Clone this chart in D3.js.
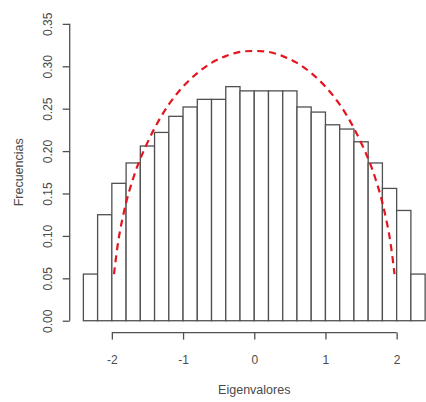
<!DOCTYPE html>
<html>
<head>
<meta charset="utf-8">
<script src="https://cdn.jsdelivr.net/npm/d3@7/dist/d3.min.js"></script>
<style>
  html, body { margin: 0; padding: 0; background: #fff; }
  svg { display: block; }
  text { font-family: "Liberation Sans", Arial, sans-serif; fill: #4a4a4a; }
</style>
</head>
<body>
<svg id="chart" width="426" height="402"></svg>
<script>
// Histogram bin edges (width 0.2) and observed densities
const breaks = [-2.4, -2.2, -2.0, -1.8, -1.6, -1.4, -1.2, -1.0, -0.8, -0.6, -0.4, -0.2,
                0.0, 0.2, 0.4, 0.6, 0.8, 1.0, 1.2, 1.4, 1.6, 1.8, 2.0, 2.2, 2.4];
const frecuencias = [0.055, 0.125, 0.162, 0.186, 0.206, 0.222, 0.241, 0.252, 0.261, 0.261,
                     0.276, 0.271, 0.271, 0.271, 0.271, 0.252, 0.246, 0.231, 0.226, 0.211,
                     0.186, 0.156, 0.130, 0.055];

// Semicircle reference density (dashed red curve)
const curvaX = [-1.97, -1.9, -1.8, -1.7, -1.6, -1.4, -1.2, -1.0, -0.8, -0.6, -0.4, -0.2, 0.0,
                0.2, 0.4, 0.6, 0.8, 1.0, 1.2, 1.4, 1.6, 1.7, 1.8, 1.9, 1.97];
const curvaY = [0.055, 0.099, 0.139, 0.168, 0.191, 0.227, 0.255, 0.276, 0.292, 0.304, 0.312, 0.317, 0.318,
                0.317, 0.312, 0.304, 0.292, 0.276, 0.255, 0.227, 0.191, 0.168, 0.139, 0.099, 0.055];

// Axis ticks
const xTicks = [-2, -1, 0, 1, 2];
const yTicks = [0.00, 0.05, 0.10, 0.15, 0.20, 0.25, 0.30, 0.35];

const svg = d3.select("#chart");
const plot = { left: 69.7, right: 438.8, top: 12, bottom: 332.6 };

// Plot limits extend the data range by 4% on each side
const xr = d3.extent(breaks);
const xPad = (xr[1] - xr[0]) * 0.04;
const x = d3.scaleLinear().domain([xr[0] - xPad, xr[1] + xPad]).range([plot.left, plot.right]);
const yMax = 0.35;
const y = d3.scaleLinear().domain([-yMax * 0.04, yMax * 1.04]).range([plot.bottom, plot.top]);

const ink = "#505050";

// Bars
const bins = frecuencias.map((v, i) => ({ x0: breaks[i], x1: breaks[i + 1], v }));
svg.append("g")
  .selectAll("rect")
  .data(bins)
  .join("rect")
  .attr("x", d => x(d.x0))
  .attr("y", d => y(d.v))
  .attr("width", d => x(d.x1) - x(d.x0))
  .attr("height", d => y(0) - y(d.v))
  .attr("fill", "#fff")
  .attr("stroke", ink)
  .attr("stroke-width", 1.3);

// Dashed density curve
const line = d3.line()
  .x((d, i) => x(curvaX[i]))
  .y(d => y(d))
  .curve(d3.curveCatmullRom);
svg.append("path")
  .attr("d", line(curvaY))
  .attr("fill", "none")
  .attr("stroke", "#e3161f")
  .attr("stroke-width", 2.2)
  .attr("stroke-dasharray", "7,5");

// X axis
const xAxis = svg.append("g")
  .attr("transform", `translate(0,${plot.bottom})`)
  .call(d3.axisBottom(x).tickValues(xTicks).tickSize(7).tickSizeOuter(0).tickFormat(d3.format("d")));
xAxis.select(".domain").remove();
xAxis.append("line")
  .attr("x1", x(xTicks[0])).attr("x2", x(xTicks[xTicks.length - 1]))
  .attr("stroke", ink).attr("stroke-width", 1.3);
xAxis.selectAll(".tick line").attr("stroke", ink).attr("stroke-width", 1.3);
xAxis.selectAll(".tick text")
  .attr("y", 31).attr("dy", 0)
  .style("font-size", "12px").style("font-family", "Liberation Sans, Arial, sans-serif")
  .attr("fill", "#4a4a4a")
  .text(d => d < 0 ? "-" + Math.abs(d) : d);

// Y axis
const yAxis = svg.append("g")
  .attr("transform", `translate(${plot.left},0)`)
  .call(d3.axisLeft(y).tickValues(yTicks).tickSize(7).tickSizeOuter(0).tickFormat(d3.format(".2f")));
yAxis.select(".domain").remove();
yAxis.append("line")
  .attr("y1", y(yTicks[0])).attr("y2", y(yTicks[yTicks.length - 1]))
  .attr("stroke", ink).attr("stroke-width", 1.3);
yAxis.selectAll(".tick line").attr("stroke", ink).attr("stroke-width", 1.3);
yAxis.selectAll(".tick text")
  .attr("x", null).attr("dy", null)
  .attr("text-anchor", "middle")
  .attr("transform", "translate(-18,0) rotate(-90)")
  .style("font-size", "12px").style("font-family", "Liberation Sans, Arial, sans-serif")
  .attr("fill", "#4a4a4a");

// Axis titles
svg.append("text")
  .attr("x", x(0)).attr("y", 394)
  .attr("text-anchor", "middle")
  .style("font-size", "12.5px")
  .text("Eigenvalores");

svg.append("text")
  .attr("transform", `translate(23,${(plot.top + plot.bottom) / 2}) rotate(-90)`)
  .attr("text-anchor", "middle")
  .style("font-size", "12.5px")
  .text("Frecuencias");
</script>
</body>
</html>
